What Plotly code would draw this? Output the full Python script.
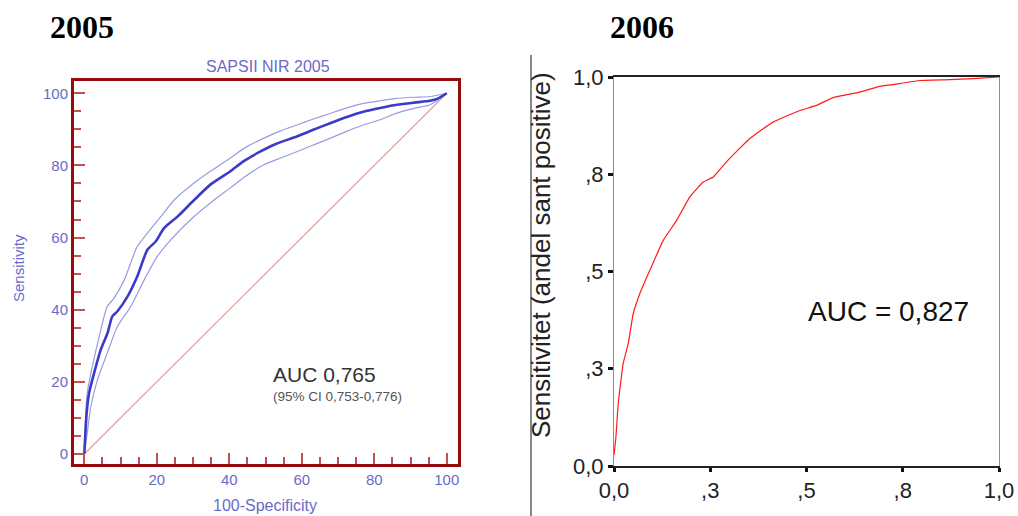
import plotly.graph_objects as go

# ---- 2005 (SAPSII NIR 2005) ROC, values in percent ----
fpr_2005 = [0, 0.65, 1.3, 2.7, 4.5, 6.4, 7.7, 9.1, 11.9, 14.6, 17.4, 19.7, 22, 25.7, 30.3, 34.7,
            40.2, 44, 48.5, 53, 58.6, 63, 67.8, 72, 77, 82, 86.2, 91, 95.4, 97.5, 100]
sens_2005 = [0, 11.3, 16.8, 22.4, 28.8, 33.5, 38.1, 39.5, 43.6, 49.2, 56.6, 58.9, 62.6, 65.8, 70.4, 74.6,
             78.3, 81.2, 83.8, 86, 88, 89.8, 91.7, 93.3, 94.9, 96, 96.8, 97.4, 97.9, 98.5, 100]

upper_fpr_2005 = [0, 0.4, 0.8, 2.2, 4.1, 6.3, 8.2, 11, 14.6, 17.4, 21.1, 24.8, 30.1, 35, 40.2, 44.5,
                  49.4, 54, 58.6, 63, 67.8, 72, 77, 82, 86.2, 91, 95.4, 100]
upper_sens_2005 = [0, 11.3, 16.8, 24.2, 32.5, 40.8, 43.2, 48.2, 57.5, 61.2, 65.8, 70.4, 75, 78.5, 82, 85,
                   87.5, 89.5, 91.2, 92.8, 94.4, 95.8, 97.2, 98, 98.6, 98.9, 99.1, 100]

lower_fpr_2005 = [0, 0.8, 1.8, 3.6, 6.3, 9.1, 12.8, 16.5, 20.1, 23.8, 29.4, 35.8, 40.2, 44.5, 49.4,
                  54, 58.6, 63, 67.8, 72, 77, 82, 86.2, 91, 95.4, 100]
lower_sens_2005 = [0, 5.7, 13.1, 20.5, 27.9, 35.3, 40.8, 48.2, 54.7, 59.3, 65, 70.4, 73.7, 77, 80.1,
                   82, 83.8, 85.6, 87.5, 89.3, 91.2, 92.8, 94.5, 95.8, 96.8, 100]

diag_2005 = [0, 100]

major_ticks_2005 = [0, 20, 40, 60, 80, 100]

# ---- 2006 ROC, values as fractions ----
fpr_2006 = [0, 0.005, 0.011, 0.024, 0.037, 0.05, 0.067, 0.093, 0.128, 0.163, 0.197, 0.232, 0.258,
            0.292, 0.353, 0.413, 0.483, 0.526, 0.569, 0.638, 0.690, 0.742, 0.794, 0.872, 0.933, 1.0]
sens_2006 = [0.028, 0.075, 0.161, 0.264, 0.315, 0.392, 0.443, 0.503, 0.580, 0.632, 0.692, 0.730, 0.743,
             0.782, 0.842, 0.884, 0.914, 0.927, 0.947, 0.961, 0.976, 0.983, 0.991, 0.993, 0.996, 1.0]

ticks_2006 = [0, 0.25, 0.5, 0.75, 1.0]
ticklabels_2006 = ["0,0", ",3", ",5", ",8", "1,0"]

W, H = 1018, 516
def px(x):
    return x / W
def py(y):
    return 1 - y / H

BLUE_TXT = "#6a6ac8"
FRAME = "#950a0a"
TICKRED = "#c45050"
SANS = "Arial, Liberation Sans, sans-serif"

fig = go.Figure()

fig.add_trace(go.Scatter(x=diag_2005, y=diag_2005, mode="lines",
                         line=dict(color="#e2a3a3", width=1.3), xaxis="x", yaxis="y", showlegend=False))
fig.add_trace(go.Scatter(x=upper_fpr_2005, y=upper_sens_2005, mode="lines",
                         line=dict(color="#9a9ae0", width=1.2, shape="spline", smoothing=0.6),
                         xaxis="x", yaxis="y", showlegend=False))
fig.add_trace(go.Scatter(x=lower_fpr_2005, y=lower_sens_2005, mode="lines",
                         line=dict(color="#9a9ae0", width=1.2, shape="spline", smoothing=0.6),
                         xaxis="x", yaxis="y", showlegend=False))
fig.add_trace(go.Scatter(x=fpr_2005, y=sens_2005, mode="lines",
                         line=dict(color="#3b3bc8", width=2.6, shape="spline", smoothing=0.6),
                         xaxis="x", yaxis="y", showlegend=False))

fig.add_trace(go.Scatter(x=fpr_2006, y=sens_2006, mode="lines",
                         line=dict(color="#ff1a1a", width=1.2, shape="spline", smoothing=0.4),
                         xaxis="x2", yaxis="y2", showlegend=False))

axis_font_left = dict(family=SANS, size=15, color=BLUE_TXT)

left_axis_common = dict(
    showgrid=False, zeroline=False, showline=True, mirror=True,
    linecolor=FRAME, linewidth=3,
    tickmode="array", tickvals=major_ticks_2005, ticks="inside", ticklen=11,
    tickcolor=TICKRED, tickwidth=1.8, tickfont=axis_font_left,
    minor=dict(ticks="inside", dtick=5, tick0=0, ticklen=7, tickcolor=TICKRED,
               tickwidth=1.8, showgrid=False),
    layer="above traces",
)

fig.update_layout(
    width=W, height=H,
    margin=dict(l=0, r=0, t=0, b=0, autoexpand=False),
    paper_bgcolor="white", plot_bgcolor="white",
    hovermode=False,
    xaxis=dict(domain=[px(74), px(458)], range=[-2.84, 103.1], anchor="y", **left_axis_common),
    yaxis=dict(domain=[py(464), py(81)], range=[-2.77, 103.4], anchor="x", **left_axis_common),
    xaxis2=dict(domain=[px(614), px(999)], range=[0, 1], anchor="y2",
                showgrid=False, zeroline=False, showline=True, mirror=True,
                linecolor="#222222", linewidth=1.5,
                tickmode="array", tickvals=ticks_2006, ticktext=ticklabels_2006,
                ticks="outside", ticklen=4, tickwidth=3, tickcolor="#111111",
                tickfont=dict(family=SANS, size=22, color="#222222")),
    yaxis2=dict(domain=[py(466), py(77)], range=[0, 1], anchor="x2",
                showgrid=False, zeroline=False, showline=True, mirror=True,
                linecolor="#8c8c8c", linewidth=1,
                tickmode="array", tickvals=ticks_2006, ticktext=ticklabels_2006,
                ticks="outside", ticklen=5, tickwidth=2.5, tickcolor="#111111",
                tickfont=dict(family=SANS, size=22, color="#222222")),
    shapes=[dict(type="line", xref="paper", yref="paper",
                 x0=px(531), x1=px(531), y0=py(55), y1=0,
                 line=dict(color="#111111", width=1))],
)

annotations = [
    dict(text="<b>2005</b>", x=px(82), y=py(27), font=dict(family="Liberation Serif, Times New Roman, serif", size=32, color="black")),
    dict(text="<b>2006</b>", x=px(642), y=py(27), font=dict(family="Liberation Serif, Times New Roman, serif", size=32, color="black")),
    dict(text="SAPSII NIR 2005", x=px(268), y=py(66), font=dict(family=SANS, size=16, color=BLUE_TXT)),
    dict(text="Sensitivity", x=px(18), y=py(268), textangle=-90, font=dict(family=SANS, size=15, color=BLUE_TXT)),
    dict(text="100-Specificity", x=px(265), y=py(505), font=dict(family=SANS, size=16, color=BLUE_TXT)),
    dict(text="AUC 0,765", x=px(271), y=py(374), xanchor="left", font=dict(family=SANS, size=21, color="#333333")),
    dict(text="(95% CI 0,753-0,776)", x=px(271), y=py(396), xanchor="left", font=dict(family=SANS, size=13.5, color="#555555")),
    dict(text="AUC = 0,827", x=px(806), y=py(311), xanchor="left", font=dict(family=SANS, size=28, color="#111111")),
    dict(text="Sensitivitet (andel sant positive)", x=px(541), y=py(255), textangle=-90,
         font=dict(family=SANS, size=26, color="#222222")),
]
for a in annotations:
    a.setdefault("xanchor", "center")
    a.update(xref="paper", yref="paper", showarrow=False, yanchor="middle")
    fig.add_annotation(**a)

# Remove the default page margin so the figure fills the window exactly; hide the mode bar.
fig.write_html("out.html",
               config={"displayModeBar": False},
               post_script="document.body.style.margin='0px';document.body.style.overflow='hidden';")
